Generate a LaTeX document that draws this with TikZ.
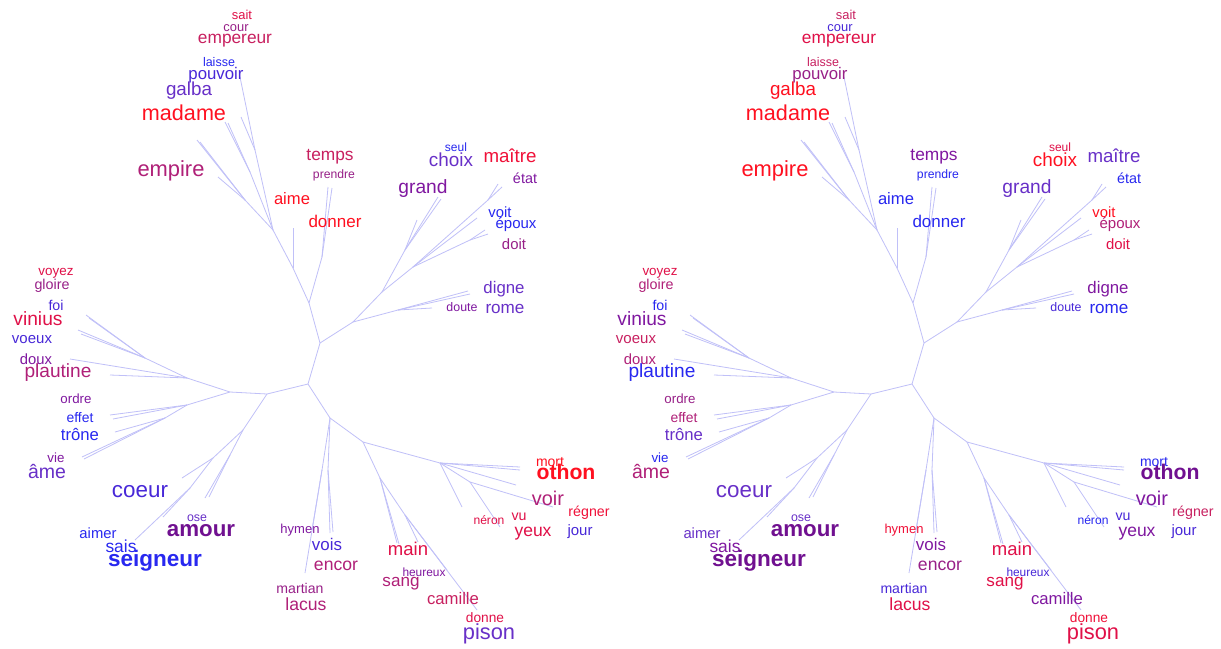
\documentclass[tikz,border=0pt]{standalone}
\usepackage{fontspec}
\setmainfont{Liberation Sans}
\definecolor{rd}{HTML}{FF1020}
\definecolor{rdb}{HTML}{F01038}
\definecolor{cr}{HTML}{E01048}
\definecolor{cm}{HTML}{C82060}
\definecolor{mg}{HTML}{B02078}
\definecolor{pm}{HTML}{982088}
\definecolor{pu}{HTML}{8018A0}
\definecolor{dp}{HTML}{701090}
\definecolor{vi}{HTML}{6830C8}
\definecolor{bv}{HTML}{4828D8}
\definecolor{bl}{HTML}{2828F0}
\definecolor{branchcol}{HTML}{C0C0F8}
\newcommand\mkpt[3]{%
  \coordinate (L-#1) at (#2,#3);
  \coordinate (R-#1) at ({#2+604},#3);}
\newcommand\mkedge[2]{%
  \draw[branch] (L-#1) -- (L-#2);
  \draw[branch] (R-#1) -- (R-#2);}
\newcommand\mkword[8]{%
  \node[wordstyle, text=#5, font=\fontsize{#4}{#4}\selectfont#7] (L-w#1) at (#2,#3) {#8};
  \node[wordstyle, text=#6, font=\fontsize{#4}{#4}\selectfont#7] (R-w#1) at ({#2+604},#3) {#8};}
\begin{document}
\begin{tikzpicture}[x=1pt,y=-1pt,
  branch/.style={draw=branchcol, line width=0.8pt},
  wordstyle/.style={inner sep=0pt, anchor=center}]
\useasboundingbox (0,0) rectangle (1221,648);
\fill[white] (0,0) rectangle (1221,648);
% tree points
\mkpt{A}{320}{343}
\mkpt{A2}{308}{384}
\mkpt{P}{309}{303}
\mkpt{X}{353}{322}
\mkpt{Q0}{293}{268}
\mkpt{aL}{293}{228}
\mkpt{Q}{273}{230}
\mkpt{R}{255}{150}
\mkpt{pv1}{240}{77}
\mkpt{pv2}{241}{117}
\mkpt{T}{250}{172}
\mkpt{md1}{225}{122}
\mkpt{md2}{228}{123}
\mkpt{S}{245}{200}
\mkpt{em1}{197}{140}
\mkpt{em2}{200}{142}
\mkpt{em3}{218}{177}
\mkpt{V}{322}{257}
\mkpt{dn1}{328}{187}
\mkpt{dn2}{332}{188}
\mkpt{Y}{398}{310}
\mkpt{du1}{432}{308}
\mkpt{dg1}{468}{291}
\mkpt{dg2}{470}{294}
\mkpt{Z}{382}{292}
\mkpt{Z1}{405}{250}
\mkpt{gr1}{417}{220}
\mkpt{gr2}{438}{197}
\mkpt{gr3}{441}{199}
\mkpt{Z2}{413}{267}
\mkpt{ep1}{477}{218}
\mkpt{Z3}{470}{240}
\mkpt{ep2}{485}{230}
\mkpt{ep3}{488}{234}
\mkpt{Z4}{488}{200}
\mkpt{ma1}{498}{184}
\mkpt{ma2}{502}{187}
\mkpt{B}{267}{394}
\mkpt{C}{230}{392}
\mkpt{D}{187}{378}
\mkpt{E}{145}{358}
\mkpt{vn1}{86}{315}
\mkpt{vn2}{89}{318}
\mkpt{vn3}{78}{330}
\mkpt{vn4}{81}{334}
\mkpt{pl1}{70}{359}
\mkpt{pl2}{110}{375}
\mkpt{G}{187}{405}
\mkpt{tr1}{110}{415}
\mkpt{tr2}{113}{419}
\mkpt{H}{165}{418}
\mkpt{tr3}{115}{432}
\mkpt{am1}{82}{457}
\mkpt{am2}{84}{459}
\mkpt{I}{243}{430}
\mkpt{Lm}{230}{455}
\mkpt{ao1}{205}{498}
\mkpt{ao2}{209}{497}
\mkpt{J}{213}{458}
\mkpt{co1}{182}{478}
\mkpt{N}{190}{488}
\mkpt{sg1}{163}{517}
\mkpt{sg2}{135}{540}
\mkpt{GG}{330}{418}
\mkpt{HH}{328}{470}
\mkpt{vs1}{330}{533}
\mkpt{vs2}{333}{532}
\mkpt{II}{322}{470}
\mkpt{hy1}{305}{573}
\mkpt{hy2}{312}{530}
\mkpt{BB}{363}{442}
\mkpt{EE}{380}{478}
\mkpt{mn1}{397}{543}
\mkpt{mn2}{399}{544}
\mkpt{FF}{405}{515}
\mkpt{cm1}{418}{542}
\mkpt{cm2}{447}{570}
\mkpt{cm3}{477}{610}
\mkpt{CC}{440}{463}
\mkpt{ot1}{520}{467}
\mkpt{ot2}{520}{470}
\mkpt{ot3}{516}{485}
\mkpt{DD}{470}{482}
\mkpt{vo1}{553}{507}
\mkpt{vo2}{500}{527}
\mkpt{nr1}{462}{507}
% branches
\foreach \a/\b in {A/P,A/A2,A/X,
  P/Q0,Q0/aL,Q0/Q,Q/R,R/pv1,R/pv2,Q/T,T/md1,T/md2,Q/S,S/em1,S/em2,S/em3,
  P/V,V/dn1,V/dn2,
  X/Y,Y/du1,Y/dg1,Y/dg2,X/Z,Z/Z1,Z1/gr1,Z1/gr2,Z1/gr3,Z/Z2,Z2/ep1,Z2/Z3,Z3/ep2,Z3/ep3,Z2/Z4,Z4/ma1,Z4/ma2,
  A2/B,B/C,C/D,D/E,E/vn1,E/vn2,E/vn3,E/vn4,D/pl1,D/pl2,C/G,G/tr1,G/tr2,G/H,H/tr3,H/am1,H/am2,
  B/I,I/Lm,Lm/ao1,Lm/ao2,I/J,J/co1,J/N,N/sg1,N/sg2,
  A2/GG,GG/HH,HH/vs1,HH/vs2,GG/II,II/hy1,II/hy2,
  GG/BB,BB/EE,EE/mn1,EE/mn2,EE/FF,FF/cm1,FF/cm2,FF/cm3,
  BB/CC,CC/ot1,CC/ot2,CC/ot3,CC/DD,DD/vo1,DD/vo2,CC/nr1}
  {\mkedge{\a}{\b}}
% words
\mkword{sait}{242}{15}{12.9}{cr}{cm}{}{sait}
\mkword{cour}{236}{28}{12.9}{pm}{bv}{}{cour}
\mkword{empereur}{235}{41}{17.3}{cm}{cr}{}{empereur}
\mkword{laisse}{219}{62}{12.5}{bl}{cm}{}{laisse}
\mkword{pouvoir}{216}{75}{16.8}{bv}{pm}{}{pouvoir}
\mkword{galba}{189}{91}{18.8}{vi}{rd}{}{galba}
\mkword{madame}{184}{113}{21.6}{rd}{rd}{}{madame}
\mkword{empire}{171}{171}{21.9}{mg}{rd}{}{empire}
\mkword{aime}{292}{199}{16.6}{rd}{bl}{}{aime}
\mkword{temps}{330}{157}{17.3}{cm}{pu}{}{temps}
\mkword{prendre}{334}{175}{12.2}{pm}{bl}{}{prendre}
\mkword{donner}{335}{221}{17}{rd}{bl}{}{donner}
\mkword{seul}{456}{147}{12}{bl}{cr}{}{seul}
\mkword{choix}{451}{160}{18.9}{vi}{rd}{}{choix}
\mkword{maitre}{510}{156}{18.7}{rdb}{vi}{}{maître}
\mkword{etat}{525}{178}{14.4}{pu}{bl}{}{état}
\mkword{grand}{423}{189}{19.2}{pu}{vi}{}{grand}
\mkword{voit}{500}{212}{14.8}{bl}{rd}{}{voit}
\mkword{epoux}{516}{225}{15}{bl}{mg}{}{époux}
\mkword{doit}{514}{244}{14.9}{pm}{cr}{}{doit}
\mkword{digne}{504}{289}{16.8}{vi}{pu}{}{digne}
\mkword{doute}{462}{307}{12.4}{pu}{bv}{}{doute}
\mkword{rome}{505}{309}{17.1}{vi}{bl}{}{rome}
\mkword{voyez}{56}{273}{13.4}{cr}{cr}{}{voyez}
\mkword{gloire}{52}{286}{14.3}{pm}{mg}{}{gloire}
\mkword{foi}{56}{305}{14.2}{bv}{bl}{}{foi}
\mkword{vinius}{38}{319}{19.2}{cr}{pu}{}{vinius}
\mkword{voeux}{32}{340}{15}{bv}{cm}{}{voeux}
\mkword{doux}{36}{359}{14.8}{pu}{mg}{}{doux}
\mkword{plautine}{58}{373}{19.1}{mg}{bl}{}{plautine}
\mkword{ordre}{76}{399}{13.3}{pu}{pm}{}{ordre}
\mkword{effet}{80}{418}{13.9}{bl}{mg}{}{effet}
\mkword{trone}{80}{434}{16.7}{bl}{vi}{}{trône}
\mkword{vie}{56}{458}{13.3}{pu}{bl}{}{vie}
\mkword{ame}{47}{471}{19.5}{vi}{mg}{}{âme}
\mkword{coeur}{140}{492}{22.4}{bv}{vi}{}{coeur}
\mkword{ose}{197}{518}{12.4}{vi}{vi}{}{ose}
\mkword{amour}{201}{531}{22.3}{dp}{dp}{\bfseries}{amour}
\mkword{aimer}{98}{533}{14.8}{bl}{vi}{}{aimer}
\mkword{sais}{121}{546}{17.4}{bl}{pu}{}{sais}
\mkword{seigneur}{155}{561}{22.5}{bl}{dp}{\bfseries}{seigneur}
\mkword{othon}{566}{472}{21.2}{rd}{dp}{\bfseries}{othon}
\mkword{mort}{550}{462}{14}{rd}{bl}{}{mort}
\mkword{voir}{548}{498}{19.9}{mg}{pu}{}{voir}
\mkword{neron}{489}{520}{12.1}{cr}{bl}{}{néron}
\mkword{vu}{519}{517}{14.2}{cr}{bv}{}{vu}
\mkword{regner}{589}{513}{14.2}{rdb}{cm}{}{régner}
\mkword{yeux}{533}{534}{17.5}{cr}{pu}{}{yeux}
\mkword{jour}{580}{532}{15}{bv}{bv}{}{jour}
\mkword{hymen}{300}{530}{13}{pu}{rdb}{}{hymen}
\mkword{vois}{327}{544}{16.9}{bv}{pu}{}{vois}
\mkword{encor}{336}{566}{17.6}{mg}{pm}{}{encor}
\mkword{martian}{300}{588}{14.1}{pm}{bv}{}{martian}
\mkword{lacus}{306}{604}{17.6}{mg}{cr}{}{lacus}
\mkword{main}{408}{549}{18.5}{cr}{cr}{}{main}
\mkword{heureux}{424}{572}{11.9}{pu}{bv}{}{heureux}
\mkword{sang}{401}{584}{17.1}{mg}{cr}{}{sang}
\mkword{camille}{453}{599}{16.7}{cm}{pu}{}{camille}
\mkword{donne}{485}{618}{13.7}{cr}{rdb}{}{donne}
\mkword{pison}{489}{634}{21.8}{vi}{cr}{}{pison}
\end{tikzpicture}
\end{document}
